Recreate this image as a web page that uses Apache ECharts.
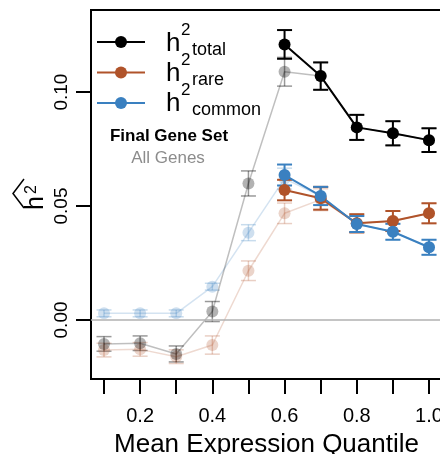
<!DOCTYPE html>
<html>
<head>
<meta charset="utf-8">
<script src="https://cdn.jsdelivr.net/npm/echarts@6/dist/echarts.min.js"></script>
<style>
  html, body { margin: 0; padding: 0; background: #fff; }
  #chart { width: 440px; height: 454px; }
</style>
</head>
<body>
<div id="chart"></div>
<script>
// quantiles
const xsAll = [0.1, 0.2, 0.3, 0.4, 0.5, 0.6, 0.7, 0.8, 0.9, 1.0];
const xsFinal = [0.6, 0.7, 0.8, 0.9, 1.0];

// All Genes (faded)
const allTotal = [-0.0105, -0.0102, -0.0149, 0.0037, 0.0599, 0.1089, 0.1070, 0.0845, 0.0819, 0.0789];
const allTotalErr = [0.0032, 0.0032, 0.0035, 0.0044, 0.0055, 0.0063, 0.0060, 0.0055, 0.0053, 0.0052];
const allRare = [-0.0132, -0.0129, -0.0161, -0.0110, 0.0216, 0.0468, 0.0528, 0.0424, 0.0434, 0.0468];
const allRareErr = [0.0030, 0.0030, 0.0030, 0.0040, 0.0043, 0.0045, 0.0048, 0.0040, 0.0044, 0.0044];
const allCommon = [0.0029, 0.0029, 0.0029, 0.0146, 0.0383, 0.0620, 0.0544, 0.0421, 0.0387, 0.0319];
const allCommonErr = [0.0015, 0.0015, 0.0015, 0.0015, 0.0035, 0.0046, 0.0040, 0.0035, 0.0035, 0.0033];

// Final Gene Set
const finalTotal = [0.1209, 0.1070, 0.0845, 0.0819, 0.0789];
const finalTotalErr = [0.0063, 0.0060, 0.0055, 0.0053, 0.0052];
const finalRare = [0.0570, 0.0534, 0.0424, 0.0434, 0.0468];
const finalRareErr = [0.0045, 0.0050, 0.0040, 0.0044, 0.0044];
const finalCommon = [0.0636, 0.0544, 0.0421, 0.0387, 0.0319];
const finalCommonErr = [0.0046, 0.0040, 0.0035, 0.0035, 0.0033];

const xTicks = [0.1, 0.2, 0.3, 0.4, 0.5, 0.6, 0.7, 0.8, 0.9, 1.0];
const xLabels = [0.2, 0.4, 0.6, 0.8, 1.0];
const yTicks = [0, 0.05, 0.10];

const BLACK = '#000000', RARE = '#b0532a', COMMON = '#3a80c0';
const FONT = '"Liberation Sans", Arial, Helvetica, sans-serif';

const chart = echarts.init(document.getElementById('chart'));

function errBars(xs, ys, es, color, opacity, width, z) {
  return {
    type: 'custom',
    silent: true,
    z: z,
    data: xs.map((x, i) => [x, ys[i] - es[i], ys[i] + es[i]]),
    encode: {x: 0, y: [1, 2]},
    renderItem: (params, api) => {
      const lo = api.coord([api.value(0), api.value(1)]);
      const hi = api.coord([api.value(0), api.value(2)]);
      const h = 7.5;
      const st = {stroke: color, lineWidth: width, opacity: opacity};
      return {
        type: 'group',
        children: [
          {type: 'line', shape: {x1: lo[0], y1: lo[1], x2: hi[0], y2: hi[1]}, style: st},
          {type: 'line', shape: {x1: lo[0] - h, y1: lo[1], x2: lo[0] + h, y2: lo[1]}, style: st},
          {type: 'line', shape: {x1: hi[0] - h, y1: hi[1], x2: hi[0] + h, y2: hi[1]}, style: st}
        ]
      };
    }
  };
}

function lineSeries(xs, ys, color, lineOp, dotOp, width, z) {
  return {
    type: 'line',
    silent: true,
    z: z,
    data: xs.map((x, i) => [x, ys[i]]),
    symbol: 'circle',
    symbolSize: 12,
    showSymbol: true,
    lineStyle: {color: color, width: width, opacity: lineOp},
    itemStyle: {color: color, opacity: dotOp, borderWidth: 0},
    emphasis: {disabled: true}
  };
}

const series = [
  // zero reference line
  {
    type: 'line', data: [], silent: true, z: 1,
    markLine: {
      silent: true, symbol: ['none', 'none'], label: {show: false},
      lineStyle: {color: '#b0b0b0', width: 1.5, type: 'solid'},
      data: [{yAxis: 0}]
    }
  },
  // All Genes
  errBars(xsAll, allRare, allRareErr, RARE, 0.28, 1.5, 2),
  lineSeries(xsAll, allRare, RARE, 0.22, 0.25, 1.5, 2),
  errBars(xsAll, allCommon, allCommonErr, COMMON, 0.28, 1.5, 2),
  lineSeries(xsAll, allCommon, COMMON, 0.22, 0.25, 1.5, 2),
  errBars(xsAll, allTotal, allTotalErr, BLACK, 0.4, 1.5, 2),
  lineSeries(xsAll, allTotal, BLACK, 0.25, 0.3, 1.5, 2),
  // Final Gene Set
  errBars(xsFinal, finalTotal, finalTotalErr, BLACK, 1, 2, 3),
  lineSeries(xsFinal, finalTotal, BLACK, 1, 1, 2, 3),
  errBars(xsFinal, finalRare, finalRareErr, RARE, 1, 2, 3),
  lineSeries(xsFinal, finalRare, RARE, 1, 1, 2, 3),
  errBars(xsFinal, finalCommon, finalCommonErr, COMMON, 1, 2, 3),
  lineSeries(xsFinal, finalCommon, COMMON, 1, 1, 2, 3)
];

// legend rows
const legendRows = [
  {y: 42, color: BLACK, sub: 'total'},
  {y: 72.5, color: RARE, sub: 'rare'},
  {y: 103, color: COMMON, sub: 'common'}
];
const graphic = [];
legendRows.forEach((r, i) => {
  const base = 53 + i * 30;
  graphic.push(
    {type: 'line', shape: {x1: 97, y1: r.y, x2: 145, y2: r.y}, style: {stroke: r.color, lineWidth: 2}, z: 10},
    {type: 'circle', shape: {cx: 121, cy: r.y, r: 6}, style: {fill: r.color}, z: 10},
    {type: 'text', x: 166, y: base - 9, style: {text: 'h', font: '26px ' + FONT, fill: '#000', textAlign: 'left', textVerticalAlign: 'middle'}, z: 10},
    {type: 'text', x: 181, y: base - 23, style: {text: '2', font: '17px ' + FONT, fill: '#000', textAlign: 'left', textVerticalAlign: 'middle'}, z: 10},
    {type: 'text', x: 192, y: base - 2.5, style: {text: r.sub, font: '18px ' + FONT, fill: '#000', textAlign: 'left', textVerticalAlign: 'middle'}, z: 10}
  );
});
graphic.push(
  {type: 'text', x: 169, y: 136, style: {text: 'Final Gene Set', font: 'bold 17px ' + FONT, fill: '#000', textAlign: 'center', textVerticalAlign: 'middle'}, z: 10},
  {type: 'text', x: 168, y: 158, style: {text: 'All Genes', font: '17px ' + FONT, fill: '#8c8c8c', textAlign: 'center', textVerticalAlign: 'middle'}, z: 10},
  // y axis title: h-hat squared, rotated
  {
    type: 'group', x: 45, y: 210, rotation: Math.PI / 2, z: 10,
    children: [
      {type: 'text', x: 0, y: -8.5, style: {text: 'h', font: '25px ' + FONT, fill: '#000', textAlign: 'left', textVerticalAlign: 'middle'}},
      {type: 'text', x: 16, y: -13, style: {text: '2', font: '16px ' + FONT, fill: '#000', textAlign: 'left', textVerticalAlign: 'middle'}},
      {type: 'polyline', shape: {points: [[2, -21], [16.5, -32], [31, -21]]}, style: {stroke: '#000', lineWidth: 1.5, fill: null}}
    ]
  }
);

chart.setOption({
  animation: false,
  grid: {
    left: 91, top: 10, width: 351, height: 369,
    outerBoundsMode: 'none', containLabel: false,
    show: true, borderColor: '#000', borderWidth: 2, backgroundColor: 'transparent'
  },
  xAxis: {
    type: 'value', min: 0.064, max: 1.036,
    name: 'Mean Expression Quantile', nameLocation: 'middle', nameGap: 53,
    nameTextStyle: {fontSize: 26, fontFamily: FONT, color: '#000'},
    axisLine: {show: false, onZero: false},
    splitLine: {show: false},
    axisTick: {show: true, inside: false, length: 15, lineStyle: {color: '#000', width: 2}, customValues: xTicks},
    axisLabel: {fontSize: 20, fontFamily: FONT, color: '#000', margin: 27, customValues: xLabels, formatter: v => v.toFixed(1)}
  },
  yAxis: {
    type: 'value', min: -0.0259, max: 0.136,
    axisLine: {show: false, onZero: false},
    splitLine: {show: false},
    axisTick: {show: true, inside: false, length: 15, lineStyle: {color: '#000', width: 2}, customValues: yTicks},
    axisLabel: {fontSize: 19, fontFamily: FONT, color: '#000', margin: 20, rotate: 90, customValues: yTicks, formatter: v => v.toFixed(2)}
  },
  graphic: graphic,
  series: series
});
</script>
</body>
</html>
